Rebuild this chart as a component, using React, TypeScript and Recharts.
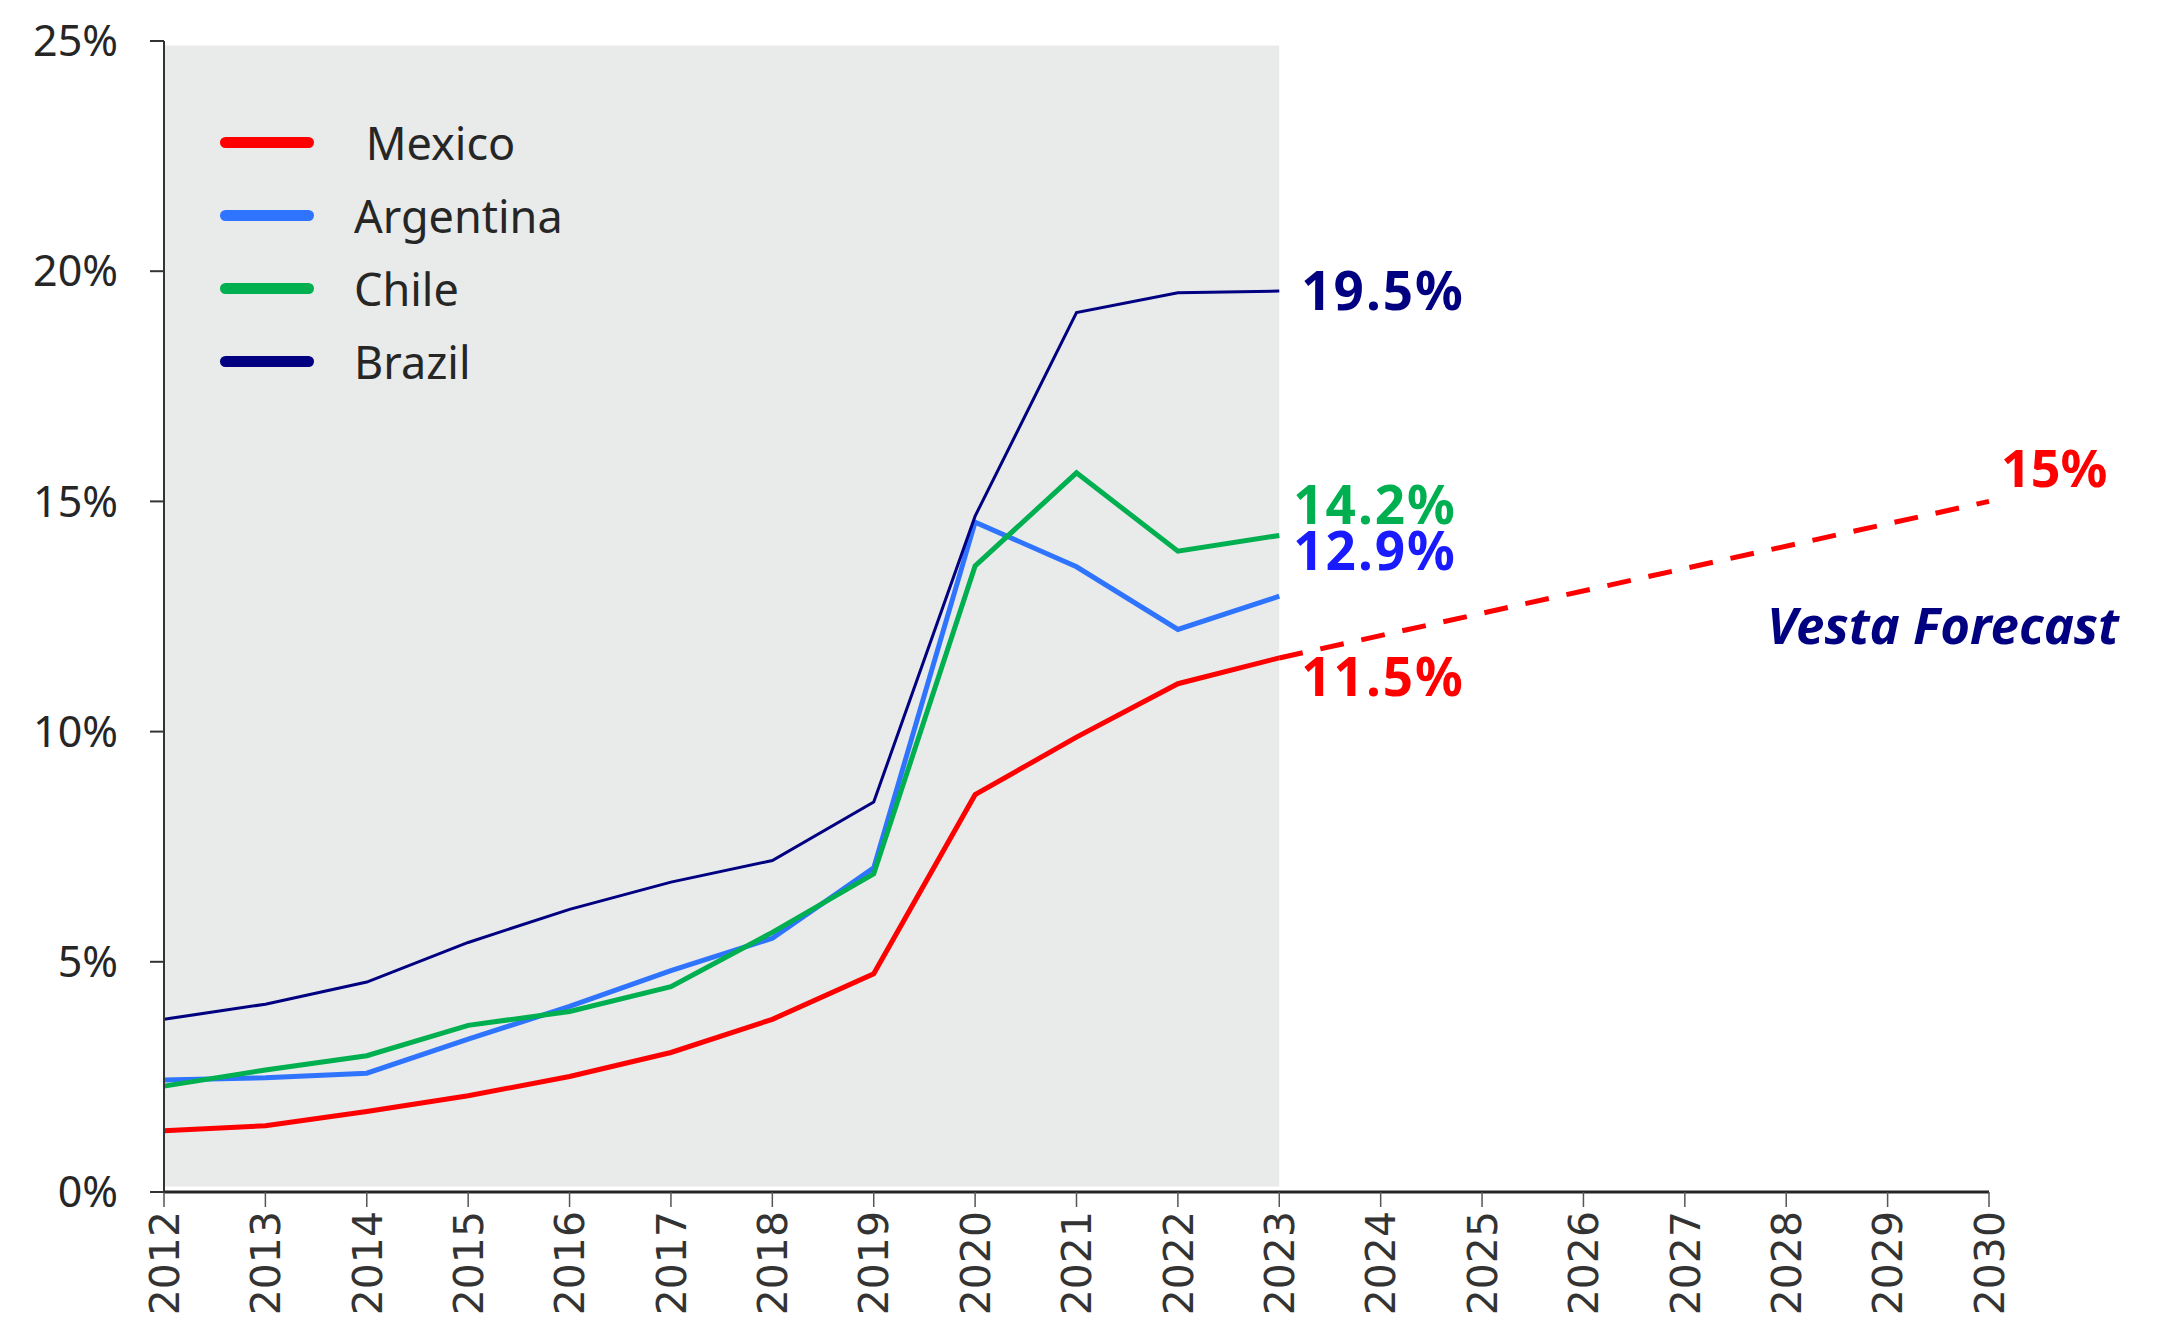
import {
  LineChart,
  Line,
  XAxis,
  YAxis,
  ReferenceArea,
  Legend,
  LabelList,
} from 'recharts';

const years = [2012, 2013, 2014, 2015, 2016, 2017, 2018, 2019, 2020, 2021, 2022, 2023, 2024, 2025, 2026, 2027, 2028, 2029, 2030];
const mexico = [1.33, 1.44, 1.75, 2.09, 2.51, 3.03, 3.75, 4.74, 8.63, 9.88, 11.04, 11.6];
const argentina = [2.43, 2.48, 2.58, 3.32, 4.03, 4.81, 5.51, 7.04, 14.55, 13.58, 12.22, 12.94];
const chile = [2.3, 2.65, 2.96, 3.62, 3.92, 4.46, 5.64, 6.91, 13.6, 15.62, 13.92, 14.26];
const brazil = [3.75, 4.08, 4.56, 5.42, 6.14, 6.73, 7.2, 8.47, 14.68, 19.1, 19.53, 19.57];
// vesta forecast: known endpoints only
const forecastYears = [2023, 2030];
const forecastValues = [11.6, 15];

const yTicks = [0, 5, 10, 15, 20, 25];
const shadeYears = [2012, 2023];

const endLabels = {
  brazil: '19.5%',
  chile: '14.2%',
  argentina: '12.9%',
  mexico: '11.5%',
  forecast: '15%',
};

const legendItems = [
  { name: ' Mexico', color: '#FF0000' },
  { name: 'Argentina', color: '#2F74FF' },
  { name: 'Chile', color: '#00B050' },
  { name: 'Brazil', color: '#000080' },
];

const data = years.map((year, i) => {
  const f = forecastYears.indexOf(year);
  return {
    year,
    mexico: mexico[i] ?? null,
    argentina: argentina[i] ?? null,
    chile: chile[i] ?? null,
    brazil: brazil[i] ?? null,
    forecast: f >= 0 ? forecastValues[f] : null,
  };
});

const LAST = mexico.length - 1;
const LABEL_FONT = '"Noto Sans", sans-serif';

const YearTick = (props: any) => {
  const { x, y, payload } = props;
  return (
    <text
      x={x}
      y={y}
      transform={`rotate(-90 ${x} ${y})`}
      textAnchor="end"
      dy="0.36em"
      fontFamily='"DejaVu Sans", sans-serif'
      fontSize={41}
      fill="#333333"
    >
      {payload.value}
    </text>
  );
};

const endLabel = (text: string, color: string, dx: number, dy: number, idx: number) => (props: any) => {
  if (props.index !== idx || props.x == null) return null;
  return (
    <text
      x={props.x + dx}
      y={props.y + dy}
      dy="0.36em"
      fill={color}
      fontFamily={LABEL_FONT}
      fontWeight={700}
      fontSize={53}
      letterSpacing={2}
    >
      {text}
    </text>
  );
};

const forecastLabel = (props: any) => {
  if (props.index !== years.length - 1 || props.x == null) return null;
  return (
    <g>
      <text x={props.x + 12} y={props.y - 33} dy="0.36em" fill="#FF0000" fontFamily={LABEL_FONT} fontWeight={700} fontSize={52}>
        {endLabels.forecast}
      </text>
      <text
        x={props.x + 130}
        y={props.y + 124}
        dy="0.36em"
        textAnchor="end"
        fill="#000080"
        fontFamily={LABEL_FONT}
        fontWeight={700}
        fontStyle="italic"
        fontSize={51}
      >
        Vesta Forecast
      </text>
    </g>
  );
};

const LegendBox = () => (
  <div style={{ fontFamily: LABEL_FONT }}>
    {legendItems.map((item) => (
      <div key={item.name} style={{ display: 'flex', alignItems: 'center', height: 73 }}>
        <div style={{ width: 94, height: 11, borderRadius: 6, background: item.color }} />
        <span style={{ marginLeft: 40, fontSize: 45, color: '#262626', whiteSpace: 'pre' }}>{item.name}</span>
      </div>
    ))}
  </div>
);

export default function App() {
  return (
    <div>
      <style>{'body{margin:0;background:#fff}'}</style>
      <LineChart width={2158} height={1323} data={data} margin={{ top: 41, right: 169, bottom: 0, left: 0 }}>
        <ReferenceArea
          x1={shadeYears[0]}
          x2={shadeYears[1]}
          y1={0.12}
          y2={24.9}
          fill="#E9EAEA"
          fillOpacity={1}
          stroke="none"
        />
        <XAxis
          dataKey="year"
          type="number"
          domain={[2012, 2030]}
          ticks={years}
          interval={0}
          height={131}
          tick={<YearTick />}
          tickSize={15}
          tickMargin={4}
          axisLine={{ stroke: '#262626', strokeWidth: 3 }}
          tickLine={{ stroke: '#555555', strokeWidth: 1.5 }}
        />
        <YAxis
          type="number"
          domain={[0, 25]}
          ticks={yTicks}
          width={164}
          tickFormatter={(v) => `${v}%`}
          tick={{ fontFamily: LABEL_FONT, fontSize: 43, fill: '#262626' }}
          tickSize={14}
          tickMargin={32}
          axisLine={{ stroke: '#333333', strokeWidth: 2 }}
          tickLine={{ stroke: '#333333', strokeWidth: 2 }}
        />
        <Legend
          layout="vertical"
          align="center"
          verticalAlign="middle"
          content={<LegendBox />}
          wrapperStyle={{ left: 220, top: 106, width: 400, height: 300 }}
        />
        <Line dataKey="mexico" stroke="#FF0000" strokeWidth={5} dot={false} isAnimationActive={false}>
          <LabelList content={endLabel(endLabels.mexico, '#FF0000', 22, 19, LAST)} />
        </Line>
        <Line dataKey="argentina" stroke="#2F74FF" strokeWidth={5} dot={false} isAnimationActive={false}>
          <LabelList content={endLabel(endLabels.argentina, '#1A1AFF', 14, -45, LAST)} />
        </Line>
        <Line dataKey="chile" stroke="#00B050" strokeWidth={5} dot={false} isAnimationActive={false}>
          <LabelList content={endLabel(endLabels.chile, '#00B050', 14, -31, LAST)} />
        </Line>
        <Line dataKey="brazil" stroke="#000080" strokeWidth={3} dot={false} isAnimationActive={false}>
          <LabelList content={endLabel(endLabels.brazil, '#000080', 22, 0, LAST)} />
        </Line>
        <Line
          dataKey="forecast"
          stroke="#FF0000"
          strokeWidth={5}
          strokeDasharray="24 18"
          connectNulls
          dot={false}
          isAnimationActive={false}
        >
          <LabelList content={forecastLabel} />
        </Line>
      </LineChart>
    </div>
  );
}
